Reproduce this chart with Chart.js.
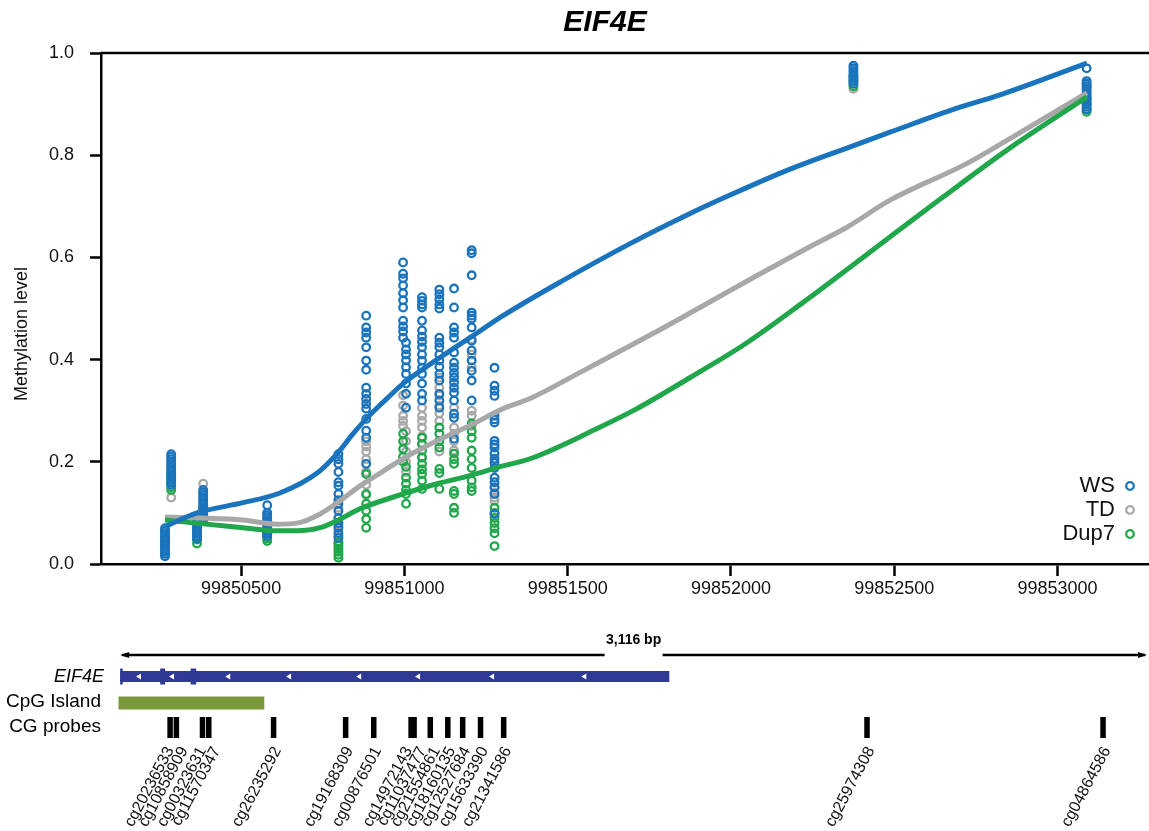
<!DOCTYPE html>
<html>
<head>
<meta charset="utf-8">
<title>EIF4E methylation</title>
<script src="https://cdn.jsdelivr.net/npm/chart.js@4.4.1/dist/chart.umd.min.js"></script>
<style>
  html, body { margin: 0; padding: 0; background: #fff; }
  #wrap { width: 1149px; height: 831px; }
</style>
</head>
<body>
<div id="wrap"><canvas id="methChart" width="1149" height="831"></canvas></div>
<script>
// probes (450K CpG sites) and their genomic position
const probeIds = ['cg20236533', 'cg10858909', 'cg00323631', 'cg11570347', 'cg26235292', 'cg19168309',
  'cg00876501', 'cg14972143', 'cg11037477', 'cg21554861', 'cg18160135', 'cg12527684',
  'cg15633390', 'cg21341586', 'cg25974308', 'cg04864586'];
const probePos = [99850267, 99850286, 99850365, 99850384, 99850580, 99850798,
  99850883, 99850996, 99851005, 99851054, 99851107, 99851152,
  99851206, 99851276, 99852375, 99853089];

// methylation values per probe, one small list per group
const wsValues = [
  [0.015, 0.02, 0.025, 0.03, 0.035, 0.04, 0.045, 0.05, 0.055, 0.06, 0.065, 0.07],
  [0.155, 0.16, 0.165, 0.17, 0.175, 0.18, 0.185, 0.19, 0.195, 0.2, 0.205, 0.21, 0.215],
  [0.05, 0.055, 0.06, 0.065, 0.07, 0.075, 0.08, 0.085],
  [0.09, 0.095, 0.1, 0.105, 0.11, 0.115, 0.12, 0.125, 0.13, 0.135, 0.14, 0.145],
  [0.055, 0.06, 0.065, 0.07, 0.075, 0.08, 0.085, 0.09, 0.095, 0.1, 0.115],
  [0.215, 0.205, 0.196, 0.18, 0.16, 0.153, 0.137, 0.125, 0.118, 0.104, 0.09, 0.08, 0.071, 0.06, 0.051],
  [0.486, 0.463, 0.453, 0.443, 0.424, 0.398, 0.38, 0.345, 0.333, 0.323, 0.313, 0.304, 0.284, 0.261, 0.247, 0.196],
  [0.59, 0.568, 0.559, 0.545, 0.53, 0.516, 0.502, 0.476, 0.465, 0.455, 0.443],
  [0.433, 0.42, 0.41, 0.398, 0.385, 0.372, 0.353, 0.333, 0.306],
  [0.522, 0.515, 0.508, 0.502, 0.476, 0.457, 0.445, 0.435, 0.424, 0.41, 0.398, 0.384, 0.372, 0.353, 0.333, 0.32],
  [0.537, 0.528, 0.518, 0.508, 0.5, 0.443, 0.433, 0.424, 0.41, 0.398, 0.386, 0.372, 0.359, 0.333, 0.32, 0.306],
  [0.539, 0.502, 0.463, 0.453, 0.443, 0.414, 0.394, 0.384, 0.374, 0.365, 0.355, 0.345, 0.335, 0.32, 0.294, 0.286, 0.245],
  [0.614, 0.608, 0.565, 0.492, 0.486, 0.48, 0.463, 0.437, 0.418, 0.398, 0.378, 0.359, 0.32],
  [0.384, 0.349, 0.339, 0.329, 0.29, 0.283, 0.277, 0.241, 0.234, 0.228, 0.216, 0.206, 0.198, 0.188, 0.169, 0.16, 0.15, 0.137, 0.098],
  [0.975, 0.97, 0.965, 0.96, 0.955, 0.95, 0.945, 0.94],
  [0.97, 0.945, 0.94, 0.935, 0.93, 0.925, 0.92, 0.915, 0.91, 0.905, 0.9, 0.895, 0.89]
];
const tdValues = [
  [0.02, 0.035, 0.05, 0.062],
  [0.13, 0.155, 0.17, 0.19],
  [0.05, 0.06, 0.07],
  [0.1, 0.12, 0.14, 0.157],
  [0.06, 0.07, 0.08, 0.09, 0.1],
  [0.04, 0.055, 0.065, 0.075, 0.09, 0.11],
  [0.24, 0.23, 0.22, 0.205, 0.18, 0.155, 0.135],
  [0.33, 0.31, 0.29, 0.28, 0.27],
  [0.26, 0.24, 0.22, 0.2, 0.18],
  [0.306, 0.29, 0.28, 0.267, 0.25, 0.235, 0.21],
  [0.365, 0.345, 0.33, 0.31, 0.295, 0.28, 0.24, 0.22],
  [0.306, 0.267, 0.255, 0.24, 0.222],
  [0.44, 0.41, 0.385, 0.3, 0.29, 0.27],
  [0.149, 0.14, 0.13, 0.124],
  [0.93, 0.94, 0.95],
  [0.94, 0.935, 0.93, 0.9]
];
const dup7Values = [
  [0.025, 0.035, 0.045, 0.05],
  [0.145, 0.15, 0.16, 0.17, 0.18],
  [0.04, 0.048, 0.055, 0.065],
  [0.085, 0.095, 0.1, 0.11],
  [0.045, 0.05, 0.055, 0.06, 0.065],
  [0.012, 0.018, 0.024, 0.03, 0.036, 0.042],
  [0.176, 0.137, 0.118, 0.104, 0.088, 0.071],
  [0.255, 0.24, 0.225, 0.21, 0.2],
  [0.19, 0.169, 0.157, 0.145, 0.137, 0.118],
  [0.247, 0.235, 0.222, 0.208, 0.196, 0.185, 0.176, 0.163, 0.147],
  [0.267, 0.255, 0.24, 0.228, 0.186, 0.178, 0.147],
  [0.216, 0.205, 0.196, 0.143, 0.137, 0.11, 0.1],
  [0.275, 0.26, 0.247, 0.222, 0.205, 0.188, 0.163, 0.15, 0.143],
  [0.11, 0.1, 0.09, 0.08, 0.07, 0.06, 0.035],
  [0.935, 0.945, 0.955],
  [0.885, 0.89, 0.9, 0.91]
];

// smoothed group curves
const wsCurveX = [99850267, 99850365, 99850506, 99850619, 99850733, 99850794, 99850843, 99850886, 99850947, 99850996,
  99851109, 99851201, 99851302, 99851486, 99851691, 99851875, 99851997, 99852159, 99852355, 99852487, 99852692, 99852824, 99853090];
const wsCurveY = [0.073, 0.1, 0.12, 0.139, 0.178, 0.216, 0.255, 0.286, 0.324, 0.353,
  0.404, 0.443, 0.486, 0.555, 0.627, 0.686, 0.722, 0.767, 0.814, 0.845, 0.892, 0.918, 0.98];
const tdCurveX = [99850267, 99850506, 99850610, 99850671, 99850742, 99850803, 99850864, 99850926, 99850996, 99851100,
  99851201, 99851302, 99851385, 99851538, 99851761, 99852098, 99852233, 99852355, 99852487, 99852723, 99852845, 99853090];
const tdCurveY = [0.092, 0.086, 0.078, 0.08, 0.098, 0.124, 0.153, 0.178, 0.206, 0.241,
  0.271, 0.304, 0.324, 0.375, 0.451, 0.571, 0.618, 0.659, 0.712, 0.784, 0.829, 0.922];
const dup7CurveX = [99850267, 99850506, 99850610, 99850671, 99850742, 99850803, 99850864, 99850996, 99851100, 99851201,
  99851302, 99851385, 99851590, 99851712, 99851875, 99852049, 99852221, 99852404, 99852649, 99852845, 99853090];
const dup7CurveY = [0.086, 0.071, 0.065, 0.065, 0.071, 0.088, 0.108, 0.137, 0.157, 0.173,
  0.192, 0.206, 0.265, 0.304, 0.365, 0.433, 0.512, 0.6, 0.718, 0.81, 0.914];

const groupNames = ['WS', 'TD', 'Dup7'];
const xTickValues = [99850500, 99851000, 99851500, 99852000, 99852500, 99853000];
const yTickValues = [0, 0.2, 0.4, 0.6, 0.8, 1.0];

// gene track (hg19, chr4)
const regionStart = 99850116, regionEnd = 99853232;
const geneName = 'EIF4E';
const geneStart = 99850116, geneEnd = 99851777;
const exonStarts = [99850116, 99850237, 99850329];
const exonEnds = [99850122, 99850252, 99850346];
const strandMarks = [99850173, 99850273, 99850443, 99850627, 99850839, 99851017, 99851241, 99851520];
const cpgStart = 99850111, cpgEnd = 99850552;

const BLUE = '#1a74bd', GRAY = '#a8a8a8', GREEN = '#20a64b';
const groupColors = [BLUE, GRAY, GREEN];
const FONT = "'Liberation Sans', Arial, Helvetica, sans-serif";

function toPoints(values) {
    const pts = [];
    values.forEach((list, i) => list.forEach(v => pts.push({ x: probePos[i], y: v })));
    return pts;
}
function toCurve(xs, ys) {
    return xs.map((x, i) => ({ x: x, y: ys[i] }));
}
function curveSet(label, data, color) {
    return {
        type: 'line', label: label, data: data, borderColor: color, borderWidth: 5,
        pointRadius: 0, fill: false, showLine: true, cubicInterpolationMode: 'monotone'
    };
}
function pointSet(label, data, color) {
    return {
        type: 'scatter', label: label, data: data, borderColor: color, backgroundColor: 'rgba(0,0,0,0)',
        pointRadius: 3.8, pointBorderWidth: 2.3, pointStyle: 'circle'
    };
}

const annotations = {
    id: 'annotations',
    afterDraw(chart) {
        const c = chart.ctx;
        const area = chart.chartArea;
        const track = chart.scales.xTrack;
        const px = v => track.getPixelForValue(v);
        c.save();

        // top frame line
        c.strokeStyle = '#000';
        c.lineWidth = 2.5;
        c.beginPath();
        c.moveTo(area.left, area.top);
        c.lineTo(area.right, area.top);
        c.stroke();

        // title
        c.fillStyle = '#000';
        c.font = 'italic bold 30px ' + FONT;
        c.textAlign = 'center';
        c.textBaseline = 'middle';
        c.fillText(geneName, 605, 23);

        // y axis title
        c.save();
        c.translate(22, 334);
        c.rotate(-Math.PI / 2);
        c.font = '18px ' + FONT;
        c.fillStyle = '#111';
        c.fillText('Methylation level', 0, 0);
        c.restore();

        // legend: label then marker
        c.font = '22px ' + FONT;
        c.textAlign = 'right';
        groupNames.forEach((name, i) => {
            const y = 486 + i * 24;
            c.fillStyle = '#111';
            c.fillText(name, 1115, y);
            c.strokeStyle = groupColors[i];
            c.lineWidth = 2.3;
            c.beginPath();
            c.arc(1130, y, 3.8, 0, Math.PI * 2);
            c.stroke();
        });

        // region ruler
        const r0 = px(regionStart), r1 = Math.min(px(regionEnd), chart.width - 2);
        const mid = (r0 + r1) / 2, yR = 655;
        c.strokeStyle = '#000';
        c.fillStyle = '#000';
        c.lineWidth = 2.5;
        c.beginPath();
        c.moveTo(r0 + 2, yR); c.lineTo(mid - 29, yR);
        c.moveTo(mid + 29, yR); c.lineTo(r1 - 2, yR);
        c.stroke();
        c.beginPath();
        c.moveTo(r0, yR); c.lineTo(r0 + 9, yR - 3); c.lineTo(r0 + 9, yR + 3); c.closePath();
        c.moveTo(r1, yR); c.lineTo(r1 - 9, yR - 3); c.lineTo(r1 - 9, yR + 3); c.closePath();
        c.fill();
        c.font = 'bold 14px ' + FONT;
        c.textAlign = 'center';
        c.fillText((regionEnd - regionStart).toLocaleString('en-US') + ' bp', mid, 640);

        // track labels
        c.font = 'italic 18px ' + FONT;
        c.textAlign = 'right';
        c.fillText(geneName, 104, 677);
        c.font = '19px ' + FONT;
        c.fillText('CpG Island', 101, 702);
        c.fillText('CG probes', 101, 727);

        // gene model
        c.fillStyle = '#2e3a94';
        c.fillRect(px(geneStart), 671, px(geneEnd) - px(geneStart), 11);
        exonStarts.forEach((s, i) => {
            c.fillRect(px(s), 668.5, Math.max(2.5, px(exonEnds[i]) - px(s)), 16);
        });
        c.fillStyle = '#fff';
        strandMarks.forEach(m => {
            const x = px(m);
            c.beginPath();
            c.moveTo(x - 3, 676.5); c.lineTo(x + 2, 673.5); c.lineTo(x + 2, 679.5); c.closePath();
            c.fill();
        });

        // CpG island
        c.fillStyle = '#78983b';
        c.fillRect(px(cpgStart), 696.5, px(cpgEnd) - px(cpgStart), 13);

        // probe ticks
        c.fillStyle = '#000';
        const bars = probePos.map(px);
        bars.forEach(x => c.fillRect(x - 2.75, 717, 5.5, 21));

        // spread the rotated labels so they do not overlap
        const lx = bars.map(x => x + 4);
        for (let k = 0; k < 60; k++) {
            for (let i = 1; i < lx.length; i++) {
                const d = lx[i] - lx[i - 1];
                if (d < 14) { lx[i - 1] -= (14 - d) / 2; lx[i] += (14 - d) / 2; }
            }
        }
        c.font = '16px ' + FONT;
        c.fillStyle = '#111';
        c.textAlign = 'right';
        c.textBaseline = 'middle';
        probeIds.forEach((id, i) => {
            c.save();
            c.translate(lx[i], 748);
            c.rotate(-62 * Math.PI / 180);
            c.fillText(id, 0, 0);
            c.restore();
        });
        c.restore();
    }
};

const ctx = document.getElementById('methChart').getContext('2d');
new Chart(ctx, {
    type: 'scatter',
    data: {
        datasets: [
            curveSet('WS loess', toCurve(wsCurveX, wsCurveY), BLUE),
            curveSet('Dup7 loess', toCurve(dup7CurveX, dup7CurveY), GREEN),
            curveSet('TD loess', toCurve(tdCurveX, tdCurveY), GRAY),
            pointSet('WS', toPoints(wsValues), BLUE),
            pointSet('Dup7', toPoints(dup7Values), GREEN),
            pointSet('TD', toPoints(tdValues), GRAY)
        ]
    },
    options: {
        responsive: false,
        animation: false,
        events: [],
        layout: { autoPadding: false, padding: { top: 53, left: 0, right: 0, bottom: 227 } },
        plugins: { legend: { display: false }, tooltip: { enabled: false }, title: { display: false } },
        scales: {
            x: {
                type: 'linear', position: 'bottom', min: 99850071, max: 99853280,
                afterBuildTicks: s => { s.ticks = xTickValues.map(v => ({ value: v })); },
                afterFit: s => { s.height = 40; },
                grid: { drawOnChartArea: false, drawTicks: true, tickLength: 12, tickColor: '#000', tickWidth: 2.5 },
                border: { display: true, color: '#000', width: 2.5 },
                ticks: { color: '#111', font: { family: FONT, size: 18 }, padding: 2, maxRotation: 0, autoSkip: false,
                    callback: v => String(v) }
            },
            xTrack: {
                type: 'linear', position: 'bottom', display: false, min: 99850058, max: 99853228
            },
            y: {
                type: 'linear', position: 'left', min: 0, max: 1,
                afterBuildTicks: s => { s.ticks = yTickValues.map(v => ({ value: v })); },
                afterFit: s => { s.width = 101; },
                grid: { drawOnChartArea: false, drawTicks: true, tickLength: 11, tickColor: '#000', tickWidth: 2.5 },
                border: { display: true, color: '#000', width: 2.5 },
                ticks: { color: '#111', font: { family: FONT, size: 18 }, padding: 16,
                    callback: v => v.toFixed(1) }
            }
        }
    },
    plugins: [annotations]
});
</script>
</body>
</html>
